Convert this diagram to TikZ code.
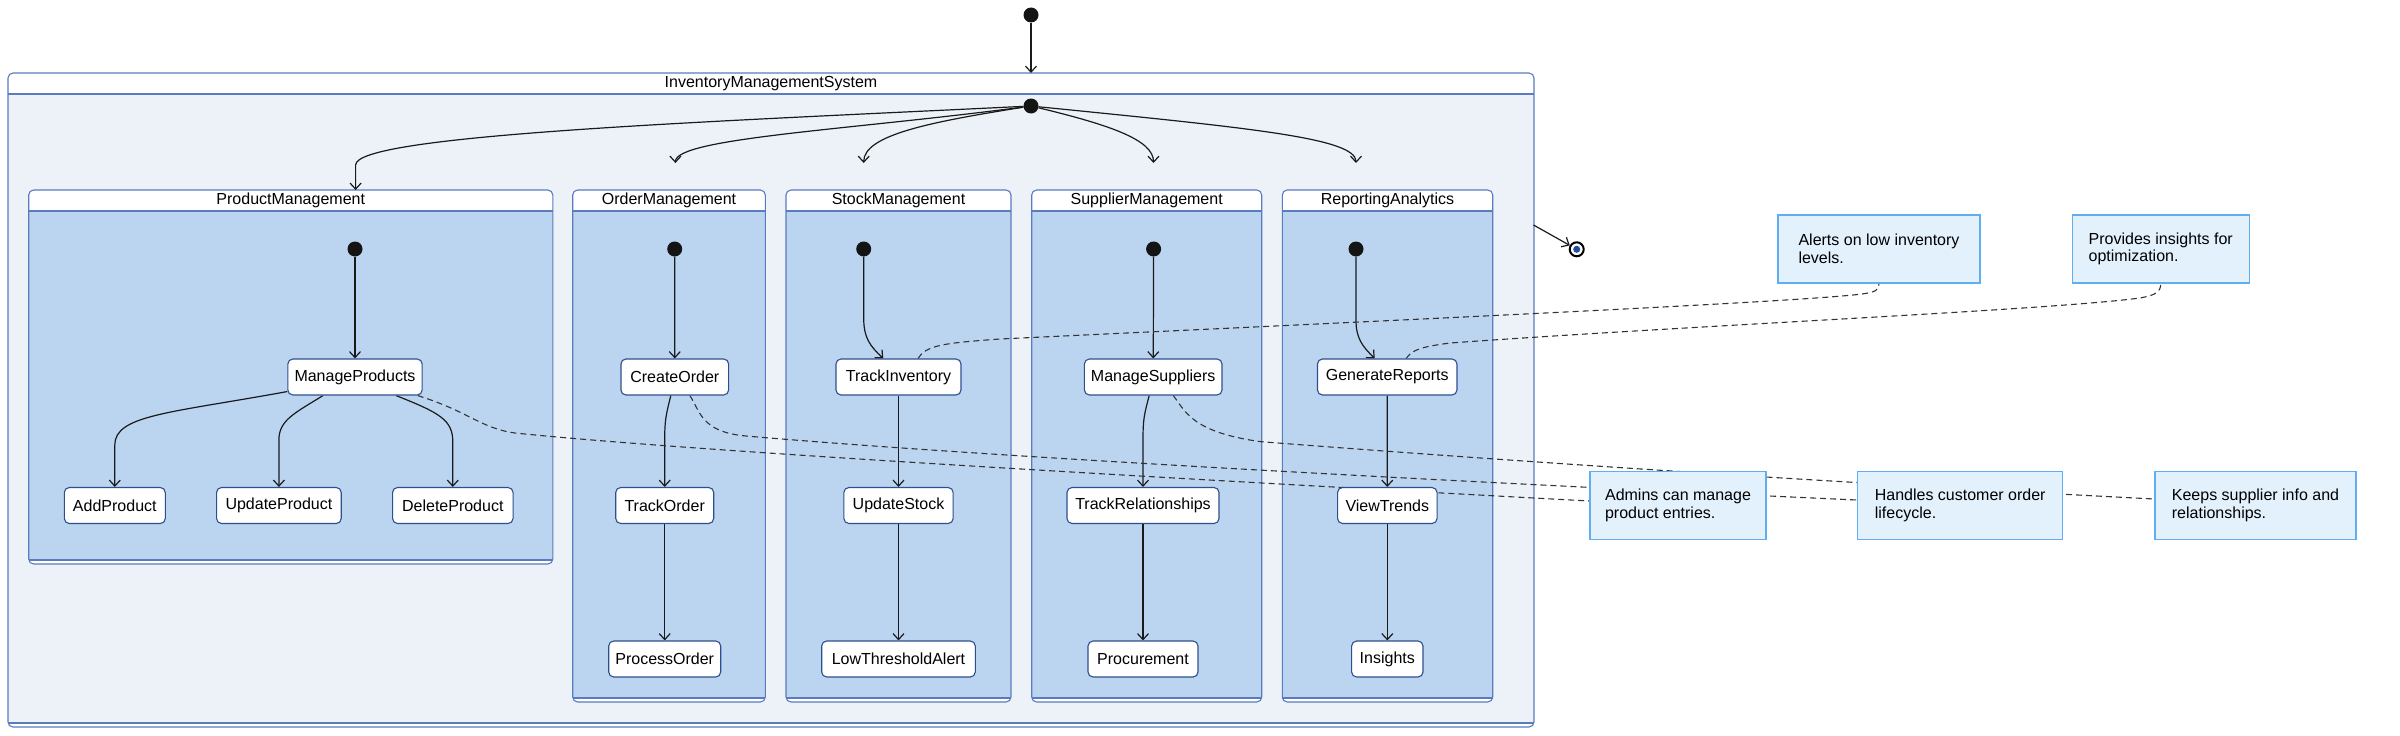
\documentclass[tikz,border=0pt]{standalone}
\usepackage{fontspec}
\setmainfont{Liberation Sans}
\usetikzlibrary{arrows.meta}
\definecolor{stb}{HTML}{2D4F8E}
\definecolor{clb}{HTML}{5A7BBF}
\definecolor{clf}{HTML}{BBD5F1}
\definecolor{sysf}{HTML}{EDF2F9}
\definecolor{notef}{HTML}{E3F1FD}
\definecolor{noteb}{HTML}{60AEF2}
\definecolor{edgec}{HTML}{1A1A1A}
\definecolor{dashc}{HTML}{333333}
\definecolor{fsblue}{HTML}{1F4E9C}
\newcommand\fsz{\fontsize{16bp}{19bp}\selectfont}
\newcommand\fsn{\fontsize{16bp}{17.7bp}\selectfont}
\pgfdeclarelayer{bg}
\pgfdeclarelayer{edges}
\pgfsetlayers{bg,edges,main}
% x1 y1 x2 y2 fill name
\newcommand\mycl[6]{%
  \fill[white,rounded corners=5bp] (#1,#2) rectangle (#3,#4);
  \fill[#5] (#1,#2+21) rectangle (#3,#4-4);
  \draw[clline] (#1,#2+21) -- (#3,#2+21);
  \draw[clline] (#1,#4-4) -- (#3,#4-4);
  \draw[clline,rounded corners=5bp] (#1,#2) rectangle (#3,#4);
  \node[font=\fsz,inner sep=0pt] (#6) at ({(#1+#3)/2},#2+10.5) {#6};
}
\begin{document}
\begin{tikzpicture}[x=1bp,y=-1bp,
  stbox/.style={draw=stb,line width=1.1bp,fill=white,rounded corners=5bp,minimum height=36bp,inner sep=0pt,font=\fsz},
  startdot/.style={circle,fill=black!92,minimum size=15bp,inner sep=0pt},
  tr/.style={draw=edgec,line width=1.2bp,-{Straight Barb[length=6bp,width=11bp]}},
  nlink/.style={draw=dashc,line width=1.1bp,dash pattern=on 6bp off 4bp},
  notebox/.style={draw=noteb,line width=1.2bp,fill=notef,inner sep=0pt,minimum height=68bp,align=left,font=\fsn},
  clline/.style={draw=clb,line width=1.1bp}]
\useasboundingbox (0,0) rectangle (2400,736);

\begin{pgfonlayer}{bg}
  \fill[white,rounded corners=5bp] (8,73) rectangle (1534,727);
  \fill[sysf] (8,94) rectangle (1534,723);
  \draw[clline] (8,94) -- (1534,94);
  \draw[clline] (8,723) -- (1534,723);
  \draw[clline,rounded corners=5bp] (8,73) rectangle (1534,727);
  \node[font=\fsz,inner sep=0pt] (InventoryManagementSystem) at (771,83.5) {InventoryManagementSystem};
  \mycl{28.7}{190}{552.8}{564}{clf}{ProductManagement}
  \mycl{572.7}{190}{765.3}{702}{clf}{OrderManagement}
  \mycl{786}{190}{1011}{702}{clf}{StockManagement}
  \mycl{1031.7}{190}{1261.7}{702}{clf}{SupplierManagement}
  \mycl{1282.3}{190}{1492.7}{702}{clf}{ReportingAnalytics}
\end{pgfonlayer}

% states
\node[stbox,minimum width=134.3bp] (mp) at (355,377) {ManageProducts};
\node[stbox,minimum width=101bp] (addp) at (114.8,505.5) {AddProduct};
\node[stbox,minimum width=124.7bp] (updp) at (278.9,505.5) {UpdateProduct};
\node[stbox,minimum width=120.5bp] (delp) at (452.8,505.5) {DeleteProduct};
\node[stbox,minimum width=107.7bp] (co) at (674.8,377) {CreateOrder};
\node[stbox,minimum width=98bp] (tro) at (664.7,505.5) {TrackOrder};
\node[stbox,minimum width=112bp] (po) at (664.7,659) {ProcessOrder};
\node[stbox,minimum width=125bp] (ti) at (898.5,377) {TrackInventory};
\node[stbox,minimum width=109.3bp] (us) at (898.5,505.5) {UpdateStock};
\node[stbox,minimum width=153.6bp] (lta) at (898.5,659) {LowThresholdAlert};
\node[stbox,minimum width=137.6bp] (ms) at (1153.2,377) {ManageSuppliers};
\node[stbox,minimum width=152bp] (trl) at (1143,505.5) {TrackRelationships};
\node[stbox,minimum width=110bp] (proc) at (1143,659) {Procurement};
\node[stbox,minimum width=139.5bp] (gr) at (1387.2,377) {GenerateReports};
\node[stbox,minimum width=99.5bp] (vt) at (1387.3,505.5) {ViewTrends};
\node[stbox,minimum width=71.4bp] (ins) at (1387.3,659) {Insights};

% start and final states
\node[startdot] (t0) at (1031,15) {};
\node[startdot] (d0) at (1031,106) {};
\node[startdot] (spm) at (355,249) {};
\node[startdot] (som) at (674.7,249) {};
\node[startdot] (ssm) at (863.7,249) {};
\node[startdot] (ssu) at (1153.6,249) {};
\node[startdot] (sra) at (1356,249) {};
\node[circle,draw=black,line width=2bp,fill=white,minimum size=14bp,inner sep=0pt] (fin) at (1576.7,249.3) {};
\node[circle,fill=fsblue,minimum size=7bp,inner sep=0pt] (fini) at (fin) {};

% notes
\node[notebox,minimum width=202bp] (al) at (1879,249) {Alerts on low inventory\\levels.};
\node[notebox,minimum width=177bp] (pr) at (2160.7,249) {Provides insights for\\optimization.};
\node[notebox,minimum width=176bp] (ad) at (1678,505.5) {Admins can manage\\product entries.};
\node[notebox,minimum width=205bp] (ha) at (1960.2,505.5) {Handles customer order\\lifecycle.};
\node[notebox,minimum width=201bp] (ke) at (2255.5,505.5) {Keeps supplier info and\\relationships.};

% free ends
\coordinate (sysTop) at (1031,73);
\coordinate (pmIn) at (355.6,190);
\coordinate (omIn) at (675.4,163);
\coordinate (smIn) at (863.7,163);
\coordinate (suIn) at (1153.5,163);
\coordinate (raIn) at (1356,163);
\coordinate (sysR) at (1533.5,225);

\begin{pgfonlayer}{edges}
  \draw[tr] (t0) -- (sysTop);
  \draw[tr] (d0) .. controls (700,122) and (355.6,135) .. (355.6,165) -- (pmIn);
  \draw[tr] (d0) .. controls (850,130) and (675.4,138) .. (omIn);
  \draw[tr] (d0) .. controls (930,122) and (863.7,135) .. (smIn);
  \draw[tr] (d0) .. controls (1110,125) and (1153.5,140) .. (suIn);
  \draw[tr] (d0) .. controls (1250,128) and (1356,138) .. (raIn);
  \draw[tr] (sysR) -- (fin);

  \draw[tr] (spm) -- (mp);
  \draw[tr] ([yshift=4bp]mp.south west) .. controls (170,413) and (114.8,415) .. (114.8,445) -- (addp.north);
  \draw[tr] ([xshift=-32bp]mp.south) .. controls (295,413) and (278.9,420) .. (278.9,440) -- (updp.north);
  \draw[tr] ([xshift=41bp]mp.south) .. controls (440,413) and (452.8,420) .. (452.8,442) -- (delp.north);

  \draw[tr] (som) -- (co);
  \draw[tr] ([xshift=-4bp]co.south) .. controls (666,415) and (664.7,420) .. (664.7,440) -- (tro.north);
  \draw[tr] (tro) -- (po);

  \draw[tr] (ssm.south) -- (863.7,318) .. controls (863.7,338) and (870,346) .. ([xshift=-15.2bp]ti.north);
  \draw[tr] (ti) -- (us);
  \draw[tr] (us) -- (lta);

  \draw[tr] (ssu) -- (ms);
  \draw[tr] ([xshift=-4bp]ms.south) .. controls (1144,415) and (1143,420) .. (1143,440) -- (trl.north);
  \draw[tr] (trl) -- (proc);

  \draw[tr] (sra.south) -- (1356,320) .. controls (1356,338) and (1362,346) .. ([xshift=-12.5bp]gr.north);
  \draw[tr] (gr) -- (vt);
  \draw[tr] (vt) -- (ins);

  % note links
  \draw[nlink] ([xshift=-5bp]mp.south east) .. controls (470,412) and (480,428) .. (515,433) .. controls (700,452) and (1200,480) .. ([yshift=4.5bp]ad.west);
  \draw[nlink] ([xshift=15bp]co.south) .. controls (700,410) and (700,432) .. (746,436) .. controls (1000,458) and (1500,484) .. ([yshift=5.5bp]ha.west);
  \draw[nlink] ([xshift=20bp]ms.south) .. controls (1185,410) and (1190,432) .. (1261,441.7) .. controls (1600,468) and (1900,486) .. ([yshift=6.5bp]ke.west);
  \draw[nlink] ([xshift=19.5bp]ti.north) .. controls (926,345) and (945,343) .. (1000,339) .. controls (1400,320) and (1800,302) .. (1862,294) .. controls (1876,292) and (1879,290) .. (al.south);
  \draw[nlink] ([xshift=19bp]gr.north) .. controls (1412,350) and (1420,347) .. (1450,343) .. controls (1700,325) and (2050,310) .. (2140,298) .. controls (2156,295) and (2160.7,292) .. (pr.south);
\end{pgfonlayer}
\end{tikzpicture}
\end{document}
